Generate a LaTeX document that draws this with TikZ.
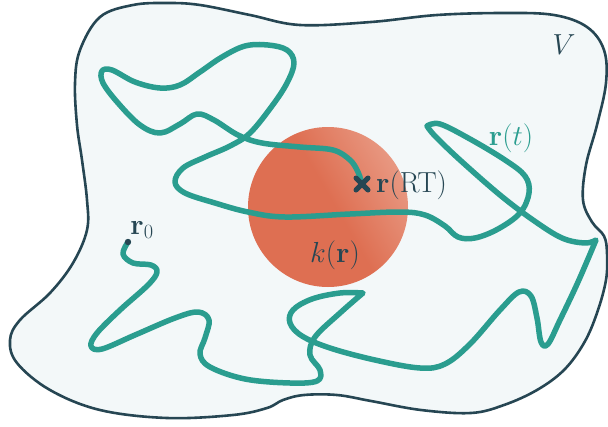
\RequirePackage{fix-cm}
\documentclass[tikz,border=0pt]{standalone}
\definecolor{dark}{RGB}{38,70,83}
\definecolor{teal}{RGB}{42,157,143}
\definecolor{fillv}{RGB}{243,248,249}
\definecolor{orangeA}{RGB}{222,111,82}
\definecolor{orangeB}{RGB}{236,168,148}
\pgfdeclarehorizontalshading{zoneshade}{100bp}{color(0bp)=(orangeA); color(52bp)=(orangeA); color(84bp)=(orangeB); color(100bp)=(orangeB)}
\tikzset{
  boundary/.style={draw=dark, line width=2.6pt, fill=fillv},
  traj/.style={draw=teal, line width=5.5pt, line join=round, line cap=round},
  lbl/.style={font=\fontsize{29}{34}\selectfont, text=dark, inner sep=0pt},
}
\begin{document}
\begin{tikzpicture}[x=1pt,y=-1pt]
\useasboundingbox (0,0) rectangle (608,426);
% region V
\draw[boundary] plot[smooth cycle, tension=0.6] coordinates {
 (80,50) (100,17) (133,5) (167,3) (200,5) (250,15) (300,25) (371,22) (437,15)
 (504,13) (554,15) (587,27) (604,50) (606,83) (597,125) (586,165) (583,200)
 (592,222) (604,236) (607,253) (606,280) (597,313) (584,343) (564,370)
 (537,390) (504,405) (471,413) (421,410) (371,401) (337,395) (304,395)
 (283,400) (267,408) (233,415) (167,418) (100,410) (50,390) (17,363)
 (10,340) (20,320) (50,293) (73,263) (87,230) (87,200) (82,160) (77,125) (75,83)};
% reaction zone
\node[circle, minimum size=160pt, inner sep=0pt, shading=zoneshade, shading angle=30]
  (zone) at (328,207) {};
% trajectory
\coordinate (r0) at (128,242);
\coordinate (rt) at (362,184);
\draw[traj] (r0) plot[smooth, tension=0.6] coordinates {
 (128,242) (123,254) (133,263) (151,265) (157,272) (148,285) (120,310) (97,333)
 (91,346) (102,349) (135,335) (175,318) (198,312) (209,320) (205,338) (200,354)
 (210,367) (245,379) (290,383) (317,381) (320,370) (310,355) (315,337) (340,313) (363,293)}
 -- plot[smooth, tension=0.6] coordinates {
 (363,293) (340,293) (312,299) (293,310) (290,323) (302,336) (330,348) (375,360)
 (420,368) (445,364) (470,344) (500,310) (519,292) (531,296) (537,318) (541,342)
 (548,344) (560,320) (578,282) (596,240)}
 -- plot[smooth, tension=0.6] coordinates {
 (596,240) (585,243) (562,238) (533,220) (500,195) (460,160) (435,136) (427,126)}
 -- plot[smooth, tension=0.6] coordinates {
 (427,126) (440,124) (470,139) (505,160) (525,176) (529,193) (520,213) (498,229)
 (475,238) (458,237) (445,226) (425,215) (400,212) (350,214) (285,217) (248,212)
 (215,203) (185,193) (175,182) (183,168) (205,157) (230,146) (250,133) (272,106)
 (287,83) (294,63) (287,50) (268,45) (245,46) (222,57) (200,72) (180,85) (160,88)
 (135,82) (112,70) (102,71) (103,83) (118,103) (140,125) (160,133) (180,124)
 (197,114) (214,120) (238,135) (262,143) (300,147) (333,150) (350,160) (358,172) (362,184)};
% start dot and end mark
\fill[dark] (r0) circle (3.2pt);
\draw[dark, line width=5pt, line cap=round] ([shift={(-6,-6)}]rt) -- ([shift={(6,6)}]rt);
\draw[dark, line width=5pt, line cap=round] ([shift={(-6,6)}]rt) -- ([shift={(6,-6)}]rt);
% labels
\node[lbl] (lV) at (564,45) {$V$};
\node[lbl, text=teal] (lrt) at (511,138) {$\mathbf{r}(t)$};
\node[lbl, anchor=west] (lRT) at (376,185) {$\mathbf{r}(\mathrm{RT})$};
\node[lbl] (lk) at (335,255) {$k(\mathbf{r})$};
\node[lbl] (l0) at (142,230) {$\mathbf{r}_0$};
\end{tikzpicture}
\end{document}
